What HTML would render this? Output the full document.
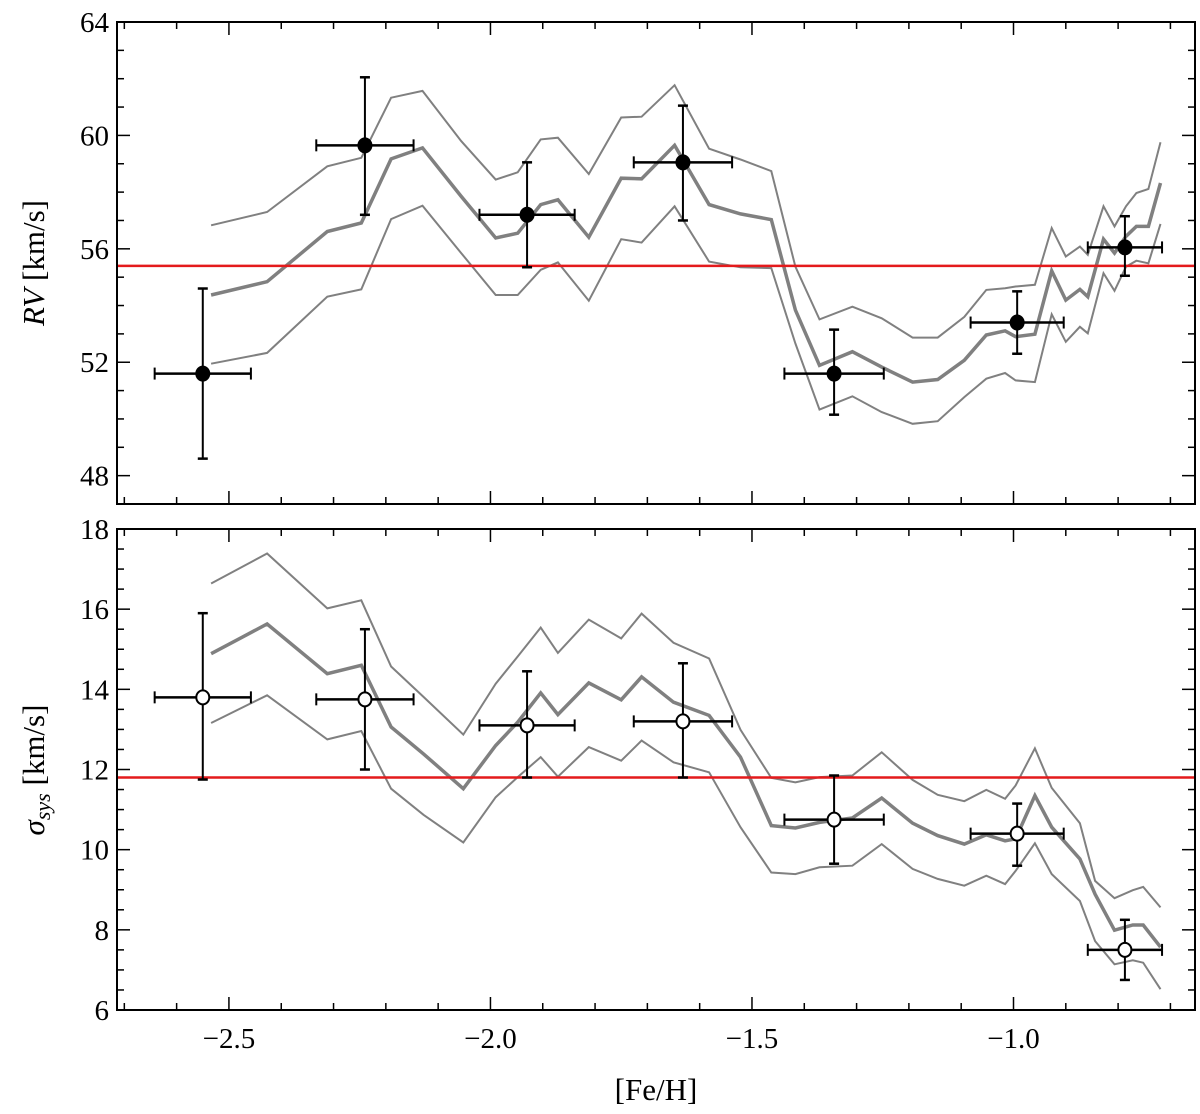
<!DOCTYPE html>
<html><head><meta charset="utf-8"><style>
html,body{margin:0;padding:0;background:#fff;}
svg{display:block;font-family:"Liberation Serif",serif;}
</style></head><body>
<svg id="chart" width="1200" height="1114" viewBox="0 0 1200 1114" xmlns="http://www.w3.org/2000/svg"></svg>
<script>
// ---- data ----
const topFeh=[-2.534,-2.427,-2.312,-2.247,-2.190,-2.130,-2.056,-1.990,-1.948,-1.904,-1.871,-1.812,-1.750,-1.711,-1.648,-1.582,-1.522,-1.463,-1.417,-1.371,-1.308,-1.252,-1.193,-1.145,-1.094,-1.052,-1.016,-0.996,-0.959,-0.927,-0.900,-0.873,-0.858,-0.828,-0.807,-0.785,-0.765,-0.742,-0.719];
const rvMid=[54.37,54.84,56.61,56.91,59.17,59.56,57.85,56.38,56.55,57.56,57.73,56.41,58.49,58.47,59.65,57.56,57.23,57.03,53.84,51.89,52.37,51.83,51.30,51.39,52.07,52.96,53.11,52.90,52.99,55.22,54.19,54.57,54.31,56.34,55.85,56.44,56.79,56.79,58.32];
const rvUp=[56.83,57.30,58.91,59.21,61.33,61.57,59.80,58.44,58.70,59.86,59.92,58.64,60.63,60.66,61.77,59.53,59.15,58.74,55.37,53.51,53.96,53.55,52.87,52.87,53.60,54.55,54.61,54.67,54.73,56.73,55.73,56.08,55.79,57.50,56.79,57.50,57.97,58.11,59.76];
const rvLo=[51.95,52.33,54.31,54.57,57.05,57.52,55.85,54.37,54.37,55.26,55.52,54.17,56.34,56.22,57.50,55.55,55.35,55.32,52.66,50.33,50.80,50.24,49.83,49.92,50.77,51.42,51.62,51.36,51.30,53.69,52.72,53.25,53.02,55.14,54.52,55.37,55.58,55.49,56.88];
const botFeh=[-2.534,-2.427,-2.312,-2.247,-2.190,-2.128,-2.052,-1.990,-1.948,-1.904,-1.871,-1.812,-1.750,-1.711,-1.650,-1.582,-1.522,-1.463,-1.417,-1.371,-1.308,-1.252,-1.193,-1.145,-1.094,-1.052,-1.016,-0.996,-0.959,-0.927,-0.873,-0.844,-0.807,-0.772,-0.752,-0.719];
const sigMid=[14.89,15.63,14.39,14.60,13.06,12.39,11.52,12.60,13.18,13.91,13.37,14.16,13.74,14.31,13.68,13.35,12.31,10.60,10.54,10.68,10.79,11.29,10.66,10.35,10.14,10.37,10.22,10.27,11.35,10.56,9.77,8.89,7.99,8.12,8.12,7.57];
const sigUp=[16.64,17.39,16.02,16.22,14.57,13.81,12.87,14.14,14.82,15.54,14.91,15.74,15.27,15.89,15.16,14.77,12.99,11.79,11.68,11.81,11.85,12.43,11.74,11.37,11.21,11.49,11.27,11.60,12.53,11.54,10.66,9.22,8.79,8.99,9.07,8.56];
const sigLo=[13.16,13.85,12.75,12.96,11.52,10.87,10.18,11.31,11.81,12.31,11.82,12.56,12.22,12.72,12.18,11.93,10.56,9.43,9.39,9.56,9.60,10.14,9.52,9.27,9.10,9.35,9.14,9.47,10.16,9.39,8.72,7.72,7.14,7.24,7.18,6.52];
const ptFeh=[-2.55,-2.24,-1.93,-1.632,-1.343,-0.993,-0.787];
const ptFehErr=[0.092,0.093,0.091,0.094,0.095,0.089,0.071];
const ptRV=[51.6,59.65,57.2,59.05,51.6,53.4,56.05];
const ptRVLo=[48.6,57.2,55.35,57.0,50.15,52.3,55.05];
const ptRVHi=[54.6,62.05,59.05,61.05,53.15,54.5,57.15];
const ptSig=[13.8,13.75,13.1,13.2,10.75,10.4,7.5];
const ptSigLo=[11.75,12.0,11.8,11.8,9.65,9.6,6.75];
const ptSigHi=[15.9,15.5,14.45,14.65,11.85,11.15,8.25];
const meanRV=55.4, meanSig=11.8;
const xTicks=[-2.5,-2.0,-1.5,-1.0];
const xTickLabels=["\u22122.5","\u22122.0","\u22121.5","\u22121.0"];
const rvTicks=[48,52,56,60,64];
const sigTicks=[6,8,10,12,14,16,18];

// ---- geometry ----
const L=117,R=1195;
const xMin=-2.714,xMax=-0.653;
const X=v=>L+(v-xMin)/(xMax-xMin)*(R-L);
const P1={t:22,b:504,min:47,max:64};
const P2={t:529,b:1010,min:6,max:18};
const Yf=p=>v=>p.b-(v-p.min)/(p.max-p.min)*(p.b-p.t);
const Y1=Yf(P1),Y2=Yf(P2);
const svg=document.getElementById('chart');
const NS="http://www.w3.org/2000/svg";
function mk(tag,attrs,parent){const e=document.createElementNS(NS,tag);for(const k in attrs)e.setAttribute(k,attrs[k]);(parent||svg).appendChild(e);return e;}

function panel(p,Y,name,yT,yMinorStep,mid,up,lo,feh,mean,pv,plo,phi,filled){
  const g=mk('g',{});
  
  
  // clip
  const cid=name+'-clip';
  const cp=mk('clipPath',{id:cid},g);mk('rect',{x:L,y:p.t,width:R-L,height:p.b-p.t},cp);
  const lines=[[up,2,name+'-upper-line'],[lo,2,name+'-lower-line'],[mid,3.5,name+'-median-line']];
  lines.forEach(([arr,w,nm])=>{
    const d=arr.map((v,i)=>(i?'L':'M')+X(feh[i]).toFixed(1)+','+Y(v).toFixed(1)).join('');
    const pa=mk('path',{d:d,fill:'none',stroke:'#808080','stroke-width':w,'stroke-linejoin':'miter','clip-path':'url(#'+cid+')'},g);
    
    
  });
  const ml=mk('line',{x1:L,x2:R,y1:Y(mean),y2:Y(mean),stroke:'#e41a1c','stroke-width':2.5},g);
  
  
  pv.forEach((v,i)=>{
    const pg=mk('g',{},g);
    
    
    const cx=X(ptFeh[i]),cy=Y(v),x1=X(ptFeh[i]-ptFehErr[i]),x2=X(ptFeh[i]+ptFehErr[i]);
    const y1=Y(plo[i]),y2=Y(phi[i]);
    mk('line',{x1:cx,x2:cx,y1:y1,y2:y2,stroke:'#000','stroke-width':2},pg);
    mk('line',{x1:cx-5,x2:cx+5,y1:y1,y2:y1,stroke:'#000','stroke-width':2.5},pg);
    mk('line',{x1:cx-5,x2:cx+5,y1:y2,y2:y2,stroke:'#000','stroke-width':2.5},pg);
    mk('line',{x1:x1,x2:x2,y1:cy,y2:cy,stroke:'#000','stroke-width':2.5},pg);
    mk('line',{x1:x1,x2:x1,y1:cy-6,y2:cy+6,stroke:'#000','stroke-width':2},pg);
    mk('line',{x1:x2,x2:x2,y1:cy-6,y2:cy+6,stroke:'#000','stroke-width':2},pg);
    mk('ellipse',{cx:cx,cy:cy,rx:6.5,ry:7,fill:filled?'#000':'#fff',stroke:'#000','stroke-width':2},pg);
  });
  // frame
  const fr=mk('rect',{x:L,y:p.t,width:R-L,height:p.b-p.t,fill:'none',stroke:'#000','stroke-width':2},g);
  
  
  // x ticks
  for(let k=-27;k<=-7;k++){
    const v=k/10;const x=X(v);const major=(k%5===0);const len=major?13:7;
    mk('line',{x1:x,x2:x,y1:p.b,y2:p.b-len,stroke:'#000','stroke-width':1.5},g);
    mk('line',{x1:x,x2:x,y1:p.t,y2:p.t+len,stroke:'#000','stroke-width':1.5},g);
  }
  // y ticks
  for(let v=p.min;v<=p.max+1e-9;v+=yMinorStep){
    const y=Y(v);const major=yT.some(t=>Math.abs(t-v)<1e-6);const len=major?13:7;
    mk('line',{x1:L,x2:L+len,y1:y,y2:y,stroke:'#000','stroke-width':1.5},g);
    mk('line',{x1:R,x2:R-len,y1:y,y2:y,stroke:'#000','stroke-width':1.5},g);
  }
  yT.forEach(t=>{
    const tx=mk('text',{x:L-8,y:Y(t)+10,'text-anchor':'end','font-size':29,fill:'#000'},g);
    tx.textContent=String(t);
    
    
  });
}
panel(P1,Y1,'rv-panel',rvTicks,1,rvMid,rvUp,rvLo,topFeh,meanRV,ptRV,ptRVLo,ptRVHi,true);
panel(P2,Y2,'sigma-panel',sigTicks,0.5,sigMid,sigUp,sigLo,botFeh,meanSig,ptSig,ptSigLo,ptSigHi,false);

xTicks.forEach((t,i)=>{
  const tx=mk('text',{x:X(t),y:1048,'text-anchor':'middle','font-size':29,fill:'#000'});
  tx.textContent=xTickLabels[i];
  
  
});
const xl=mk('text',{x:656,y:1100,'text-anchor':'middle','font-size':31,fill:'#000'});
xl.textContent='[Fe/H]';



const yl1=mk('text',{x:0,y:0,'text-anchor':'middle','font-size':31,fill:'#000',transform:'translate(44,263) rotate(-90)'});
yl1.innerHTML='<tspan font-style="italic">RV</tspan> [km/s]';


const yl2=mk('text',{x:0,y:0,'text-anchor':'middle','font-size':31,fill:'#000',transform:'translate(44,770) rotate(-90)'});
yl2.innerHTML='<tspan font-style="italic">σ</tspan><tspan font-style="italic" font-size="22" dy="6">sys</tspan><tspan dy="-6"> [km/s]</tspan>';


</script>
</body></html>
